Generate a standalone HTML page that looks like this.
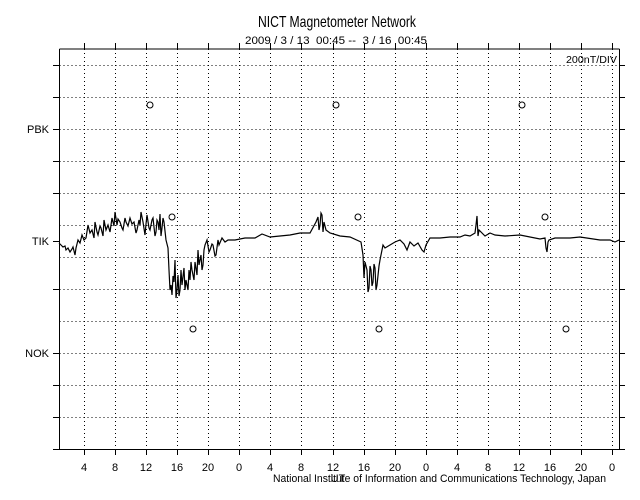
<!DOCTYPE html>
<html><head><style>
body{margin:0;background:#fff;}
svg{display:block;font-family:"Liberation Sans",sans-serif;}
</style></head><body>
<svg width="640" height="500" xmlns="http://www.w3.org/2000/svg">
<rect width="640" height="500" fill="#fff"/>
<text x="258" y="27" font-size="16" textLength="158" lengthAdjust="spacingAndGlyphs" fill="#000">NICT Magnetometer Network</text>
<text x="245" y="44" font-size="11" textLength="182" lengthAdjust="spacingAndGlyphs" fill="#000" xml:space="preserve">2009 / 3 / 13  00:45 --  3 / 16  00:45</text>
<g stroke="#000" stroke-width="1" stroke-dasharray="1,3" fill="none">
<path d="M59.5 65.5H619M59.5 97.5H619M59.5 129.5H619M59.5 161.5H619M59.5 193.5H619M59.5 225.5H619M59.5 257.5H619M59.5 289.5H619M59.5 321.5H619M59.5 353.5H619M59.5 385.5H619M59.5 417.5H619"/>
<path d="M84.5 49V449M115.5 49V449M146.5 49V449M177.5 49V449M208.5 49V449M239.5 49V449M270.5 49V449M301.5 49V449M333.5 49V449M364.5 49V449M395.5 49V449M426.5 49V449M457.5 49V449M488.5 49V449M519.5 49V449M550.5 49V449M581.5 49V449M612.5 49V449"/>
</g>
<g stroke="#000" stroke-width="1" fill="none">
<path d="M59.5 49V449.5M619.5 49V449.5M53 449.5H625"/>
<path d="M53 65.5H59M53 97.5H59M53 129.5H59M53 161.5H59M53 193.5H59M53 241.5H59M53 289.5H59M53 353.5H59M53 385.5H59M53 417.5H59"/>
<path d="M619 65.5H625M619 97.5H625M619 129.5H625M619 161.5H625M619 193.5H625M619 241.5H625M619 289.5H625M619 353.5H625M619 385.5H625M619 417.5H625"/>
<path d="M59.5 49H619.5"/>
<path d="M84.5 43V49M115.5 43V49M146.5 43V49M177.5 43V49M208.5 43V49M239.5 43V49M270.5 43V49M301.5 43V49M333.5 43V49M364.5 43V49M395.5 43V49M426.5 43V49M457.5 43V49M488.5 43V49M519.5 43V49M550.5 43V49M581.5 43V49M612.5 43V49"/>
<path d="M84.5 449V455M115.5 449V455M146.5 449V455M177.5 449V455M208.5 449V455M239.5 449V455M270.5 449V455M301.5 449V455M333.5 449V455M364.5 449V455M395.5 449V455M426.5 449V455M457.5 449V455M488.5 449V455M519.5 449V455M550.5 449V455M581.5 449V455M612.5 449V455"/>
</g>
<g font-size="11" fill="#000" text-anchor="end">
<text x="49" y="133">PBK</text><text x="49" y="245">TIK</text><text x="49" y="357">NOK</text>
</g>
<text x="566" y="63" font-size="10" textLength="51" lengthAdjust="spacingAndGlyphs">200nT/DIV</text>
<g font-size="11" fill="#000" text-anchor="middle">
<text x="84" y="471">4</text><text x="115" y="471">8</text><text x="146" y="471">12</text><text x="177" y="471">16</text><text x="208" y="471">20</text><text x="239" y="471">0</text><text x="270" y="471">4</text><text x="301" y="471">8</text><text x="333" y="471">12</text><text x="364" y="471">16</text><text x="395" y="471">20</text><text x="426" y="471">0</text><text x="457" y="471">4</text><text x="488" y="471">8</text><text x="519" y="471">12</text><text x="550" y="471">16</text><text x="581" y="471">20</text><text x="612" y="471">0</text>
</g>
<text x="273" y="482" font-size="11" textLength="333" lengthAdjust="spacingAndGlyphs">National Institute of Information and Communications Technology, Japan</text>
<text x="338" y="482" font-size="11" text-anchor="middle">UT</text>
<g fill="none" stroke="#000" stroke-width="1">
<circle cx="150" cy="105" r="3"/><circle cx="336" cy="105" r="3"/><circle cx="522" cy="105" r="3"/>
<circle cx="172" cy="217" r="3"/><circle cx="358" cy="217" r="3"/><circle cx="545" cy="217" r="3"/>
<circle cx="193" cy="329" r="3"/><circle cx="379" cy="329" r="3"/><circle cx="566" cy="329" r="3"/>
</g>
<polyline fill="none" stroke="#000" stroke-width="1.2" points="59,243 61,245 63,247 65,246 66,250 68,248 70,252 72,249 73,247 75,255 76,248 78,240 80,243 82,235 84,240 86,238 88,225 90,233 92,230 94,238 95,222 97,232 98,235 100,226 101,228 103,236 104,220 106,230 108,225 110,232 112,218 114,226 115,212 117,225 118,219 120,222 122,228 123,230 125,218 126,222 128,226 130,218 132,224 134,222 136,233 137,230 139,220 140,225 141,212 143,222 145,235 146,224 147,215 149,228 150,230 152,220 153,218 155,236 156,232 157,220 158,222 159,230 160,214 161,236 162,228 163,218 164,222 166,240 168,248 169,270 170,290 171,285 172,295 173,276 174,282 175,260 176,298 177,290 178,275 179,296 180,290 181,270 182,285 184,268 185,290 186,280 188,290 189,270 190,280 191,262 192,270 194,280 195,262 197,275 198,250 199,265 201,255 202,270 203,265 204,250 205,245 207,240 209,252 210,250 212,244 213,245 215,256 216,255 218,240 219,245 222,238 225,242 228,240 235,240 245,238 255,238 262,234 270,237 280,236 290,235 300,233 310,233 316,222 318,217 319,230 320,225 321,213 322,215 323,232 324,222 326,230 330,233 340,236 350,237 361,242 363,255 364,278 365,262 367,270 368,292 369,288 370,266 371,270 372,286 373,282 374,264 375,268 376,290 377,285 379,266 380,260 383,245 385,248 390,245 395,242 400,240 404,244 407,250 410,242 414,246 418,243 422,250 424,252 426,245 430,238 440,238 450,237 460,237 465,235 470,236 475,233 476,225 477,216 478,236 479,230 485,236 490,233 495,235 505,236 520,235 540,239 545,238 546,248 547,252 548,242 549,240 555,238 570,238 580,237 600,240 610,240 615,242 619,240"/>
</svg>
</body></html>
